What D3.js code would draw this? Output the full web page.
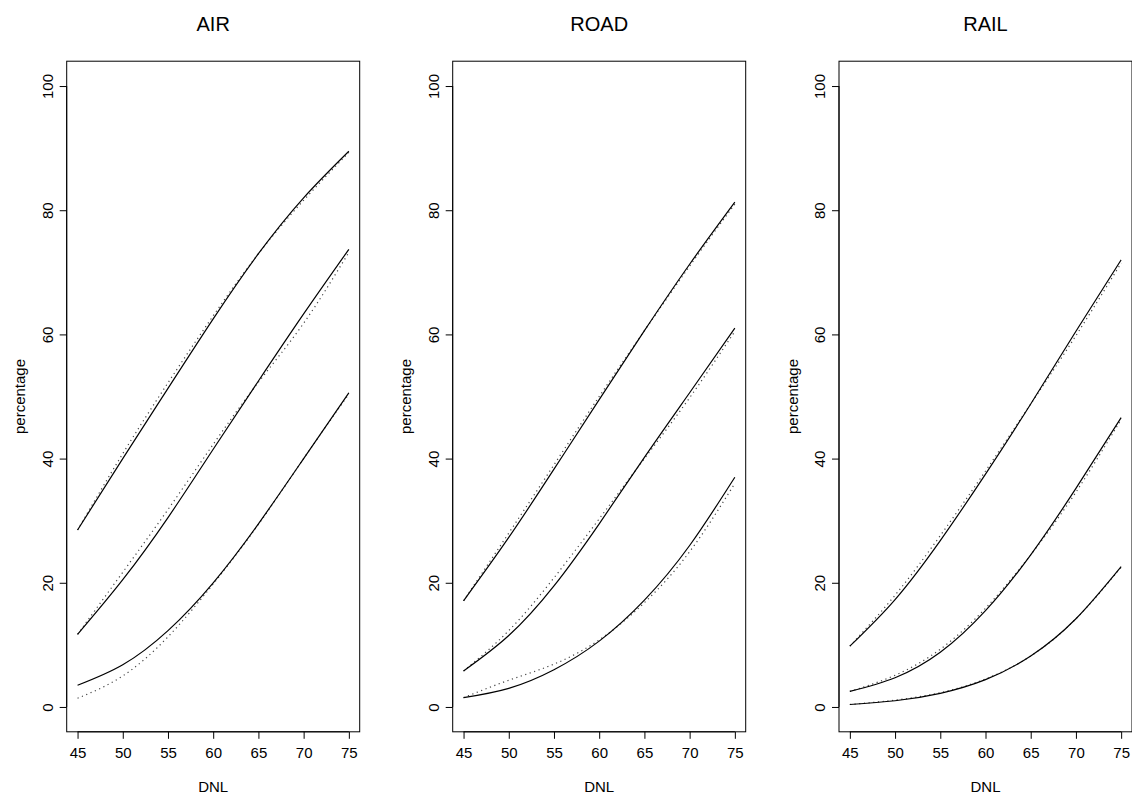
<!DOCTYPE html>
<html><head><meta charset="utf-8">
<script src="https://cdn.jsdelivr.net/npm/d3@7/dist/d3.min.js"></script>
<style>body{margin:0;background:#fff}svg{display:block}text{font-family:"Liberation Sans",Arial,sans-serif;fill:#000}</style>
</head><body>
<script>
const panels = ["AIR", "ROAD", "RAIL"];
const dnl = [45, 50, 55, 60, 65, 70, 75];
const xTicks = [45, 50, 55, 60, 65, 70, 75];
const yTicks = [0, 20, 40, 60, 80, 100];

// solid curves (top, middle, bottom) per panel
const airSolid = [
  [28.5, 40, 51.3, 62.5, 73, 82, 89.5],
  [11.7, 20.5, 30.5, 41.5, 52.5, 63.3, 73.7],
  [3.5, 6.8, 12.3, 20, 29.5, 40, 50.6]
];
const roadSolid = [
  [17.1, 27.3, 38.3, 49.5, 60.6, 71.3, 81.3],
  [5.8, 11.5, 19.5, 29.5, 40.2, 50.6, 61],
  [1.5, 3.0, 6.0, 10.6, 17.2, 26.0, 37]
];
const railSolid = [
  [9.8, 17.3, 26.8, 37.5, 48.8, 60.5, 72],
  [2.5, 4.7, 8.8, 15.5, 24.5, 35.2, 46.6],
  [0.4, 1.0, 2.2, 4.4, 8.2, 14.2, 22.6]
];
// dotted curves
const airDotted = [
  [28.5, 40.8, 52.2, 63, 73, 81.6, 89.3],
  [11.7, 21.7, 31.8, 42.3, 52.3, 61.8, 73.2],
  [1.4, 5.0, 11.3, 19.8, 29.4, 40, 50.4]
];
const roadDotted = [
  [17.1, 28.0, 39.0, 50, 60.6, 71, 81],
  [5.8, 12.3, 20.8, 30.3, 40, 49.8, 60.5],
  [1.5, 4.3, 6.9, 10.8, 16.8, 25, 36]
];
const railDotted = [
  [9.8, 18, 27.6, 38, 48.8, 59.8, 71.5],
  [2.5, 5.1, 9.3, 15.9, 24.5, 34.6, 46.3],
  [0.4, 1.1, 2.3, 4.5, 8.2, 14.2, 22.5]
];

const solids = [airSolid, roadSolid, railSolid];
const dotteds = [airDotted, roadDotted, railDotted];

const W = 1132, H = 796;
const svg = d3.select("body").append("svg").attr("width", W).attr("height", H);

const boxLefts = [66.7, 452.7, 839];
const boxW = 293, boxTop = 61.2, boxBottom = 731.8;

panels.forEach((name, i) => {
  const left = boxLefts[i];
  const x = d3.scaleLinear().domain([43.8, 76.2]).range([left, left + boxW]);
  const y = d3.scaleLinear().domain([-4, 104]).range([boxBottom, boxTop]);
  const g = svg.append("g");

  g.append("rect").attr("x", left).attr("y", boxTop).attr("width", boxW)
    .attr("height", boxBottom - boxTop).attr("fill", "none").attr("stroke", "#000").attr("stroke-width", 1);

  const xa = g.append("g").attr("transform", `translate(0,${boxBottom})`)
    .call(d3.axisBottom(x).tickValues(xTicks).tickSize(7).tickPadding(9).tickFormat(d3.format("d")));
  xa.select(".domain").attr("d", `M${x(45)},0H${x(75)}`);
  xa.selectAll("text").style("font-size", "15px").style("font-family", '"Liberation Sans",Arial,sans-serif');

  const ya = g.append("g").attr("transform", `translate(${left},0)`)
    .call(d3.axisLeft(y).tickValues(yTicks).tickSize(7).tickFormat(d3.format("d")));
  ya.select(".domain").attr("d", `M0,${y(0)}V${y(100)}`);
  ya.selectAll("text").attr("transform", null).attr("x", null).attr("dy", null)
    .attr("text-anchor", "middle")
    .attr("transform", "translate(-14,0) rotate(-90)")
    .style("font-size", "15px").style("font-family", '"Liberation Sans",Arial,sans-serif');

  g.append("text").attr("x", left + boxW / 2).attr("y", 31).attr("text-anchor", "middle")
    .style("font-size", "20px").text(name);
  g.append("text").attr("x", x(60)).attr("y", 792).attr("text-anchor", "middle")
    .style("font-size", "15px").text("DNL");
  g.append("text").attr("transform", `translate(${left - 41.5},${(boxTop + boxBottom) / 2}) rotate(-90)`)
    .attr("text-anchor", "middle").style("font-size", "15px").text("percentage");

  const line = d3.line().x((d, j) => x(dnl[j])).y(d => y(d)).curve(d3.curveNatural);
  dotteds[i].forEach(s => {
    g.append("path").attr("d", line(s)).attr("fill", "none").attr("stroke", "#444")
      .attr("stroke-width", 1.2).attr("stroke-dasharray", "1.2,3.5");
  });
  solids[i].forEach(s => {
    g.append("path").attr("d", line(s)).attr("fill", "none").attr("stroke", "#000").attr("stroke-width", 1.2);
  });
});
</script>
</body></html>
